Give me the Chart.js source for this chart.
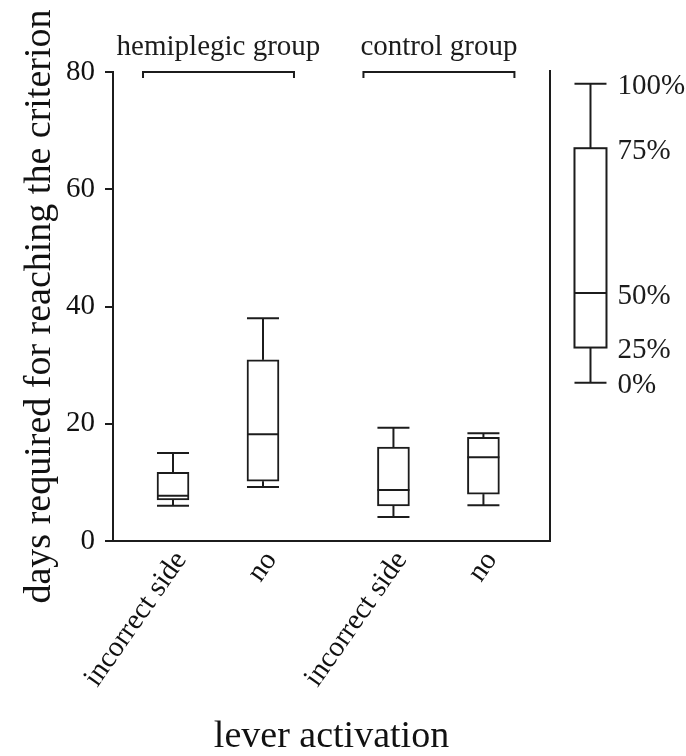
<!DOCTYPE html>
<html>
<head>
<meta charset="utf-8">
<script src="https://cdn.jsdelivr.net/npm/chart.js@4.4.0/dist/chart.umd.min.js"></script>
<style>
  html, body { margin: 0; padding: 0; background: #fff; }
  #wrap { width: 686px; height: 756px; }
</style>
</head>
<body>
<div id="wrap"><canvas id="boxChart"></canvas></div>
<script>
// data (days)
const groups = ["hemiplegic group", "control group"];
const categories = ["incorrect side", "no", "incorrect side", "no"];
const groupOf = [0, 0, 1, 1];
const mins = [6, 9.2, 4.1, 6.1];
const q1s = [7, 10.2, 6, 8];
const medians = [7.7, 18.2, 8.7, 14.3];
const q3s = [11.7, 30.9, 16, 17.7];
const maxs = [15, 38, 19.3, 18.4];
const yTicks = [0, 20, 40, 60, 80];
// key box on the right: 0%, 25%, 50%, 75%, 100%
const keyValues = [27, 33, 42.3, 67, 78];
const keyLabels = ["0%", "25%", "50%", "75%", "100%"];

const ink = "#1c1c1c";
const serif = "'Liberation Serif', 'Times New Roman', serif";
const GROUP_GAP = 0.45;
const positions = categories.map((c, i) => i + groupOf[i] * GROUP_GAP);
const keyPos = 4.64;

const boxParts = {
  id: "boxParts",
  afterDatasetsDraw(chart) {
    const { ctx, chartArea, scales: { x, y } } = chart;
    const half = 16;
    ctx.save();
    ctx.strokeStyle = ink;
    ctx.lineWidth = 2;
    const seg = (x1, y1, x2, y2) => {
      ctx.beginPath(); ctx.moveTo(x1, y1); ctx.lineTo(x2, y2); ctx.stroke();
    };
    const whiskers = (cx, lo, a, m, b, hi) => {
      seg(cx, y.getPixelForValue(b), cx, y.getPixelForValue(hi));
      seg(cx, y.getPixelForValue(a), cx, y.getPixelForValue(lo));
      seg(cx - half, y.getPixelForValue(hi), cx + half, y.getPixelForValue(hi));
      seg(cx - half, y.getPixelForValue(lo), cx + half, y.getPixelForValue(lo));
      seg(cx - half, y.getPixelForValue(m), cx + half, y.getPixelForValue(m));
    };
    positions.forEach((p, i) => {
      whiskers(x.getPixelForValue(p), mins[i], q1s[i], medians[i], q3s[i], maxs[i]);
    });

    // right frame line
    seg(chartArea.right, chartArea.top - 2, chartArea.right, chartArea.bottom);

    // group brackets
    ctx.fillStyle = ink;
    ctx.font = "29px " + serif;
    ctx.textAlign = "center";
    ctx.textBaseline = "alphabetic";
    const yb = y.getPixelForValue(80);
    groups.forEach((g, gi) => {
      const idx = positions.filter((p, i) => groupOf[i] === gi);
      const left = x.getPixelForValue(idx[0]) - 30;
      const right = x.getPixelForValue(idx[idx.length - 1]) + 31;
      ctx.beginPath();
      ctx.moveTo(left, yb + 6); ctx.lineTo(left, yb); ctx.lineTo(right, yb); ctx.lineTo(right, yb + 6);
      ctx.stroke();
      ctx.fillText(g, (left + right) / 2, yb - 17);
    });

    // key box
    const kx = x.getPixelForValue(keyPos);
    const [k0, k25, k50, k75, k100] = keyValues;
    ctx.strokeRect(kx - half, y.getPixelForValue(k75), half * 2, y.getPixelForValue(k25) - y.getPixelForValue(k75));
    whiskers(kx, k0, k25, k50, k75, k100);
    ctx.textAlign = "left";
    ctx.textBaseline = "middle";
    keyLabels.forEach((t, i) => {
      ctx.fillText(t, kx + half + 11, y.getPixelForValue(keyValues[i]) + 3);
    });
    ctx.restore();
  }
};

const ctx = document.getElementById("boxChart");

new Chart(ctx, {
  type: "bar",
  data: {
    datasets: [
      {
        data: positions.map((p, i) => ({ x: p, y: [q1s[i], q3s[i]] })),
        backgroundColor: "#ffffff",
        borderColor: ink,
        borderWidth: 2,
        borderSkipped: false,
        barThickness: 32,
      },
    ],
  },
  options: {
    responsive: true,
    maintainAspectRatio: false,
    animation: false,
    layout: { padding: { top: 72, right: 136, bottom: 0, left: 0 } },
    plugins: { legend: { display: false }, tooltip: { enabled: false } },
    scales: {
      x: {
        type: "linear",
        offset: false,
        min: -0.667,
        max: 4.19,
        grid: { display: false },
        border: { display: true, color: ink, width: 2 },
        afterBuildTicks: (scale) => {
          scale.ticks = positions.map((p) => ({ value: p }));
        },
        afterFit: (scale) => {
          scale.height = 215;
        },
        ticks: {
          autoSkip: false,
          minRotation: 55,
          maxRotation: 55,
          padding: -4,
          labelOffset: 8,
          color: "#111",
          font: { family: serif, size: 29 },
          callback: (value, index) => categories[index],
        },
        title: {
          display: true,
          text: "lever activation",
          color: "#111",
          font: { family: serif, size: 38, lineHeight: 1 },
          padding: { top: 20, bottom: 0 },
        },
      },
      y: {
        min: 0,
        max: 80,
        afterBuildTicks: (scale) => {
          scale.ticks = yTicks.map((v) => ({ value: v }));
        },
        afterFit: (scale) => {
          scale.width = 113;
        },
        grid: { drawOnChartArea: false, drawTicks: true, tickLength: 8, color: ink, lineWidth: 2 },
        border: { display: true, color: ink, width: 2 },
        ticks: {
          padding: 10,
          color: "#111",
          font: { family: serif, size: 29 },
        },
        title: {
          display: true,
          text: "days required for reaching the criterion",
          color: "#111",
          font: { family: serif, size: 38, lineHeight: 1.2 },
          padding: { top: 17, bottom: 4 },
        },
      },
    },
  },
  plugins: [boxParts],
});
</script>
</body>
</html>
